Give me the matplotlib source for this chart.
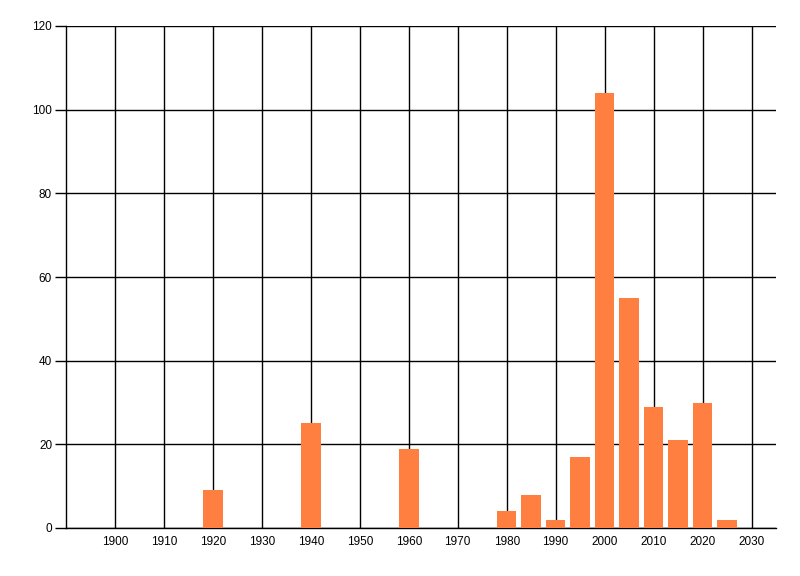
import matplotlib
matplotlib.use("Agg")
import matplotlib.pyplot as plt

years = [1920, 1940, 1960, 1980, 1985, 1990, 1995, 2000, 2005, 2010, 2015, 2020, 2025]
counts = [9, 25, 19, 4, 8, 2, 17, 104, 55, 29, 21, 30, 2]
xticks = list(range(1900, 2031, 10))
yticks = list(range(0, 121, 20))

plt.rcParams['font.family'] = ['Liberation Sans', 'DejaVu Sans']

fig = plt.figure(figsize=(8, 5.76), dpi=100)
ax = fig.add_axes([66/800, 1 - 528/576, (776-66)/800, (528-26)/576])

ax.bar(years, counts, width=4, color='#FF7F40', zorder=3)

ax.set_xlim(1890, 2035)
ax.set_ylim(0, 120)
ax.set_xticks(xticks)
ax.set_yticks(yticks)
ax.set_xticklabels([str(t) for t in xticks], fontsize=8.5)
ax.set_yticklabels([str(t) for t in yticks], fontsize=8.5)
ax.grid(True, color='black', linewidth=1, zorder=0)
ax.set_axisbelow(True)
ax.spines['top'].set_visible(False)
ax.spines['right'].set_visible(False)
ax.spines['left'].set_linewidth(1)
ax.spines['bottom'].set_linewidth(1)
ax.tick_params(axis='x', length=0, pad=6)
ax.tick_params(axis='y', length=8, width=1, pad=2)

fig.savefig('out.png', dpi=100)
